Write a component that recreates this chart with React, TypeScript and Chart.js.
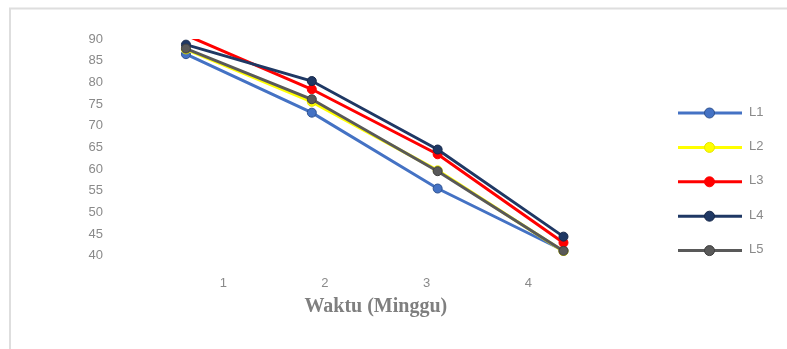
import React, { useEffect, useRef } from "react";
import { Chart, registerables } from "chart.js";

Chart.register(...registerables);

// Week labels on the horizontal axis
const weeks = ["1", "2", "3", "4"];
// Week numbers used as x positions for the series
const weekNumbers = [1, 2, 3, 4];

// Series values per week
const L1 = [86.5, 73.0, 55.5, 41.2];
const L2 = [87.6, 75.5, 59.7, 41.0];
const L3 = [90.9, 78.4, 63.4, 43.0];
const L4 = [88.7, 80.3, 64.5, 44.4];
const L5 = [87.8, 76.1, 59.5, 41.1];

const seriesNames = ["L1", "L2", "L3", "L4", "L5"];
const seriesValues = [L1, L2, L3, L4, L5];

// Y axis range and tick step
const yMin = 40;
const yMax = 90;
const yStep = 5;

const lineColors = ["#4472C4", "#FFFF00", "#FF0000", "#1F3864", "#595959"];
const markerBorders = ["#2F528F", "#E6E600", "#FF0000", "#17284A", "#3F3F3F"];

const TEXT_GRAY = "#8a8a8a";

const framePlugin = {
  id: "frame",
  beforeDraw(chart: any) {
    const ctx = chart.ctx;
    ctx.save();
    ctx.fillStyle = "#ffffff";
    ctx.fillRect(0, 0, chart.width, chart.height);
    ctx.strokeStyle = "#dedede";
    ctx.lineWidth = 2;
    ctx.beginPath();
    ctx.moveTo(10, chart.height);
    ctx.lineTo(10, 8.5);
    ctx.lineTo(chart.width, 8.5);
    ctx.stroke();
    ctx.restore();
  },
};

const sideLegendPlugin = {
  id: "sideLegend",
  afterDraw(chart: any) {
    const ctx = chart.ctx;
    const x0 = 678;
    const x1 = 742;
    const xm = 709.5;
    const yStart = 113;
    const gap = 34.4;
    ctx.save();
    chart.data.datasets.forEach((ds: any, i: number) => {
      const y = yStart + i * gap;
      ctx.strokeStyle = ds.borderColor;
      ctx.lineWidth = 3;
      ctx.beginPath();
      ctx.moveTo(x0, y);
      ctx.lineTo(x1, y);
      ctx.stroke();
      ctx.beginPath();
      ctx.arc(xm, y, 5, 0, Math.PI * 2);
      ctx.fillStyle = ds.pointBackgroundColor;
      ctx.fill();
      ctx.lineWidth = 1;
      ctx.strokeStyle = ds.pointBorderColor;
      ctx.stroke();
      ctx.fillStyle = TEXT_GRAY;
      ctx.font = "13px 'Liberation Sans', Arial, sans-serif";
      ctx.textAlign = "left";
      ctx.textBaseline = "middle";
      ctx.fillText(ds.label, 749, y - 1);
    });
    ctx.restore();
  },
};

export default function App() {
  const canvasRef = useRef<HTMLCanvasElement | null>(null);

  useEffect(() => {
    document.body.style.margin = "0";
    const canvas = canvasRef.current;
    if (!canvas) return;

    const datasets = seriesNames.map((name, i) => ({
      label: name,
      data: seriesValues[i].map((v, k) => ({ x: weekNumbers[k], y: v })),
      borderColor: lineColors[i],
      backgroundColor: lineColors[i],
      pointBackgroundColor: lineColors[i],
      pointBorderColor: markerBorders[i],
      pointBorderWidth: 1,
      pointRadius: name === "L3" ? [0, 4.5, 4.5, 4.5] : 4.5,
      borderWidth: 3,
      tension: 0,
      order: seriesNames.length - i,
      xAxisID: "x",
      yAxisID: "y",
    }));

    const chart = new Chart(canvas, {
      type: "line",
      data: { labels: weeks, datasets },
      options: {
        animation: false,
        responsive: false,
        devicePixelRatio: 1,
        layout: { padding: { left: 0, right: 207.9, top: 39, bottom: 30.3 } },
        plugins: {
          legend: { display: false },
          tooltip: { enabled: false },
        },
        scales: {
          x: {
            type: "linear",
            display: false,
            min: 0.893,
            max: 4.124,
          },
          x2: {
            type: "category",
            labels: weeks,
            position: "bottom",
            offset: true,
            grid: { display: false, drawTicks: false },
            border: { display: false },
            ticks: {
              color: TEXT_GRAY,
              padding: 19.7,
              font: { family: "'Liberation Sans', Arial, sans-serif", size: 13 },
            },
            title: {
              display: true,
              text: "Waktu (Minggu)",
              color: "#7f7f7f",
              padding: 0,
              font: {
                family: "'Liberation Serif', 'Times New Roman', serif",
                size: 20,
                weight: "bold",
              },
            },
            afterFit: (scale: any) => {
              scale.height = 63;
            },
          },
          y: {
            type: "linear",
            min: yMin,
            max: yMax,
            grid: { display: false, drawTicks: false },
            border: { display: false },
            ticks: {
              stepSize: yStep,
              autoSkip: false,
              color: TEXT_GRAY,
              padding: 69.5,
              font: { family: "'Liberation Sans', Arial, sans-serif", size: 13 },
            },
            afterFit: (scale: any) => {
              scale.width = 172.5;
              scale.paddingTop = 0;
              scale.paddingBottom = 0;
            },
          },
        },
      },
      plugins: [framePlugin, sideLegendPlugin],
    } as any);

    return () => chart.destroy();
  }, []);

  return (
    <canvas
      ref={canvasRef}
      width={787}
      height={349}
      style={{ display: "block", width: 787, height: 349 }}
    />
  );
}
